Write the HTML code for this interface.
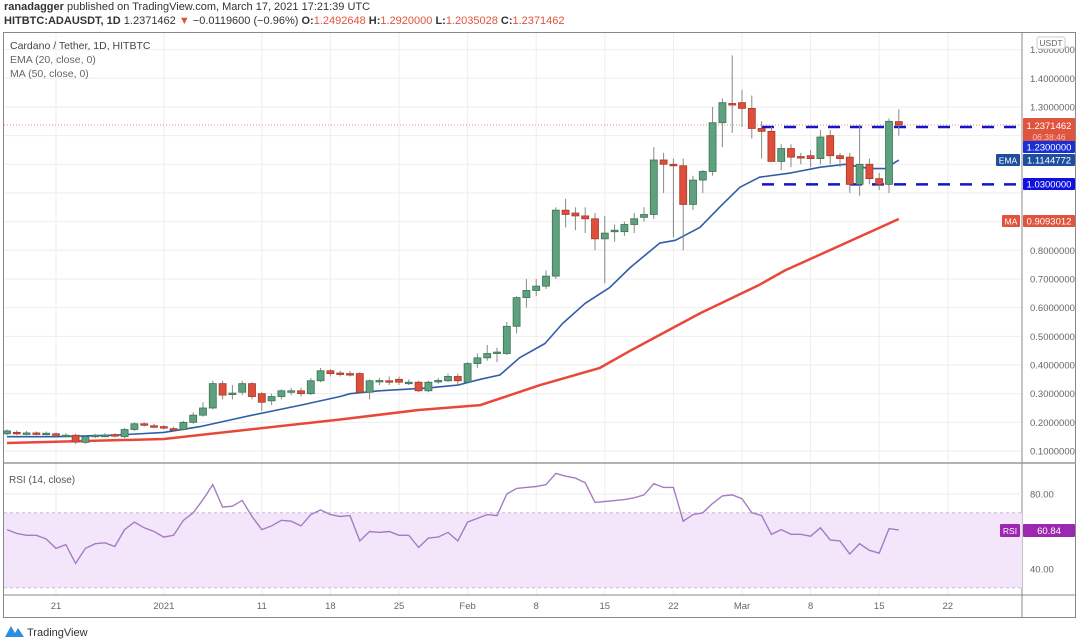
<!DOCTYPE html>
<html><head><meta charset="utf-8">
<style>
body{margin:0;background:#fff;font-family:"Liberation Sans",sans-serif;}
#wrap{position:relative;width:1080px;height:643px;overflow:hidden;background:#fff}
.hdr{position:absolute;left:4px;font-size:11px;color:#333;white-space:nowrap}
</style></head>
<body>
<div id="wrap">
<div class="hdr" style="top:1px"><b>ranadagger</b> published on TradingView.com, March 17, 2021 17:21:39 UTC</div>
<div class="hdr" style="top:15px"><b>HITBTC:ADAUSDT, 1D</b> 1.2371462 <span style="color:#e0533d">▼</span> −0.0119600 (−0.96%) <b>O:</b><span style="color:#e0533d">1.2492648</span> <b>H:</b><span style="color:#e0533d">1.2920000</span> <b>L:</b><span style="color:#e0533d">1.2035028</span> <b>C:</b><span style="color:#e0533d">1.2371462</span></div>
<svg id="svg" width="1080" height="643" style="position:absolute;left:0;top:0"></svg>
</div>
<script>
const opens=[0.16,0.165,0.163,0.163,0.162,0.16,0.155,0.155,0.13,0.15,0.155,0.157,0.15,0.175,0.195,0.188,0.185,0.178,0.175,0.2,0.225,0.25,0.335,0.3,0.305,0.335,0.3,0.275,0.29,0.31,0.31,0.30,0.345,0.38,0.372,0.37,0.37,0.305,0.345,0.345,0.35,0.34,0.34,0.31,0.345,0.345,0.36,0.34,0.405,0.425,0.443,0.44,0.535,0.635,0.66,0.675,0.71,0.94,0.93,0.92,0.91,0.84,0.865,0.865,0.89,0.915,0.925,1.115,1.10,1.095,0.96,1.045,1.075,1.245,1.312,1.315,1.295,1.225,1.215,1.11,1.155,1.127,1.13,1.12,1.2,1.13,1.125,1.03,1.1,1.05,1.03,1.249];
const closes=[0.17,0.163,0.163,0.162,0.162,0.155,0.155,0.131,0.15,0.155,0.155,0.153,0.175,0.195,0.19,0.186,0.18,0.177,0.2,0.225,0.25,0.335,0.295,0.302,0.335,0.29,0.27,0.29,0.31,0.31,0.30,0.345,0.38,0.37,0.37,0.368,0.305,0.345,0.346,0.344,0.34,0.34,0.31,0.34,0.346,0.36,0.345,0.405,0.425,0.44,0.445,0.535,0.635,0.66,0.675,0.71,0.94,0.925,0.92,0.91,0.84,0.86,0.87,0.89,0.91,0.925,1.115,1.10,1.098,0.96,1.045,1.075,1.245,1.315,1.31,1.295,1.225,1.215,1.11,1.155,1.125,1.125,1.12,1.195,1.13,1.12,1.03,1.1,1.05,1.03,1.25,1.2371462];
const highs=[0.175,0.172,0.17,0.168,0.168,0.165,0.162,0.16,0.155,0.16,0.162,0.162,0.18,0.2,0.2,0.195,0.19,0.185,0.205,0.235,0.27,0.345,0.345,0.33,0.345,0.34,0.305,0.3,0.315,0.32,0.32,0.355,0.39,0.385,0.38,0.38,0.375,0.35,0.355,0.36,0.36,0.35,0.345,0.345,0.355,0.37,0.37,0.41,0.44,0.47,0.46,0.55,0.64,0.7,0.7,0.73,0.95,0.98,0.95,0.95,0.93,0.92,0.89,0.9,0.93,0.95,1.16,1.14,1.12,1.12,1.06,1.08,1.3,1.33,1.48,1.36,1.34,1.25,1.23,1.17,1.17,1.14,1.15,1.22,1.22,1.14,1.14,1.24,1.12,1.07,1.26,1.292];
const lows=[0.155,0.155,0.155,0.155,0.155,0.15,0.148,0.125,0.125,0.145,0.148,0.148,0.145,0.17,0.185,0.18,0.175,0.17,0.172,0.195,0.22,0.245,0.28,0.28,0.295,0.28,0.24,0.26,0.28,0.295,0.29,0.295,0.34,0.36,0.36,0.36,0.3,0.28,0.33,0.33,0.33,0.33,0.305,0.305,0.335,0.34,0.33,0.335,0.39,0.415,0.41,0.435,0.51,0.6,0.64,0.665,0.7,0.88,0.87,0.86,0.8,0.685,0.83,0.85,0.86,0.9,0.91,1.0,0.845,0.80,0.94,1.0,1.06,1.16,1.21,1.23,1.19,1.12,1.19,1.08,1.09,1.1,1.09,1.1,1.1,1.09,1.0,0.99,1.03,1.01,1.0,1.20];
const rsi=[61,59,58,58,56,51,53,43,51,53.5,54,52,61,65,62,60,57,58,66,70,77,85,73,73.5,76.6,68,61,63,66,65.5,63,69,71.5,69,68,68.5,55,60,59.5,60,58,58,51.5,56.5,57,59.5,55,65,67,69,68.5,80,83,83.5,84,85,91,89.5,88.5,86,75.5,76,76.5,77,78,79.5,85.5,83.5,83.5,65.5,69,70,75,79,79.5,77.5,70,68.5,58.5,61,58.5,58.5,57.5,62,55.5,55,48,53.5,50,48.5,61.5,60.84];
const emaIdx=[0,5,11,16,19.7,23,25,30,34,35,38,43,46,48.3,50.3,52.3,54.9,56.7,59,61.5,63.6,66.6,68.2,70.7,72.7,74.8,76.8,80,83,85.5,88,89.6,91];
const emaVal=[0.15,0.15,0.155,0.165,0.185,0.21,0.225,0.26,0.29,0.30,0.31,0.32,0.33,0.35,0.365,0.425,0.475,0.545,0.615,0.67,0.74,0.825,0.835,0.88,0.95,1.02,1.055,1.07,1.09,1.1,1.085,1.085,1.1144772];
const maIdx=[0,16,34,42,48.3,54.4,60.5,63.6,70.7,76.8,79.4,91];
const maVal=[0.128,0.142,0.21,0.243,0.26,0.33,0.39,0.45,0.58,0.68,0.73,0.9093012];
const priceTicks=[0.1,0.2,0.3,0.4,0.5,0.6,0.7,0.8,0.9,1.0,1.1,1.2,1.3,1.4,1.5];
const priceTickLabels=["0.1000000","0.2000000","0.3000000","0.4000000","0.5000000","0.6000000","0.7000000","0.8000000","0.9000000","","","","1.3000000","1.4000000","1.5000000"];
const dateIdx=[5,16,26,33,40,47,54,61,68,75,82,89,96];
const dateLabels=["21","2021","11","18","25","Feb","8","15","22","Mar","8","15","22"];
const levels=[1.23,1.03];

const NS="http://www.w3.org/2000/svg",svg=document.getElementById('svg');
function el(t,a,p){const e=document.createElementNS(NS,t);for(const k in a)e.setAttribute(k,a[k]);(p||svg).appendChild(e);return e;}
const X=i=>7+i*9.8;
const Y=p=>451-(p-0.1)*286.7;
const RY=v=>494-(v-80)*1.875;
const R=1022;
let e=el('rect',{x:3.5,y:32.5,width:1072,height:585,fill:'none',stroke:'#888','stroke-width':1});

priceTicks.forEach((p,k)=>{const y=Y(p);if(y<36)return;
 e=el('line',{x1:4,x2:R,y1:y,y2:y,stroke:'#eeeeee'});
 if(priceTickLabels[k]){e=el('text',{x:1030,y:y+3.5,'font-size':9.5,fill:'#666'});e.textContent=priceTickLabels[k];}
});
dateIdx.forEach((d,k)=>{const x=X(d);if(x>R)return;
 e=el('line',{x1:x,x2:x,y1:33,y2:595,stroke:'#eeeeee'});
 e=el('text',{x:x,y:609,'font-size':9.5,fill:'#666','text-anchor':'middle'});e.textContent=dateLabels[k];
});
e=el('line',{x1:R,x2:R,y1:33,y2:617,stroke:'#888'});
e=el('line',{x1:4,x2:1076,y1:463,y2:463,stroke:'#999','stroke-width':1.5});
e=el('line',{x1:4,x2:1076,y1:595,y2:595,stroke:'#888'});
const lastC=closes[closes.length-1];
e=el('line',{x1:4,x2:R,y1:Y(lastC),y2:Y(lastC),stroke:'#e88a7c','stroke-dasharray':'1 2'});
levels.forEach(l=>{e=el('line',{x1:762,x2:R,y1:Y(l),y2:Y(l),stroke:'#1414c8','stroke-width':2.5,'stroke-dasharray':'12 10'});});
function poly(ix,vs,c,w,name){const d=ix.map((i,k)=>(k?'L':'M')+X(i).toFixed(1)+' '+Y(vs[k]).toFixed(1)).join(' ');
 const p=el('path',{d:d,fill:'none',stroke:c,'stroke-width':w,'stroke-linejoin':'round'});}
poly(maIdx,maVal,'#e8483a',2.5,'ma50-line');
poly(emaIdx,emaVal,'#2f5ea8',1.6,'ema20-line');
closes.forEach((c,i)=>{const o=opens[i],up=c>=o,x=X(i);
 const fill=up?'#5fa07e':'#dd4f3b',st=up?'#3a7355':'#a63a2a';
 let w=el('line',{x1:x,x2:x,y1:Y(highs[i]),y2:Y(lows[i]),stroke:'#888','stroke-width':1});
 
 const yt=Y(Math.max(o,c)),h=Math.max(1.5,Math.abs(Y(o)-Y(c)));
 let b=el('rect',{x:x-3.5,y:yt,width:7,height:h,fill:fill,stroke:st,'stroke-width':0.8});
 
});
e=el('rect',{x:4,y:RY(70),width:R-4,height:RY(30)-RY(70),fill:'#f3e6fb'});
[70,30].forEach(v=>{e=el('line',{x1:4,x2:R,y1:RY(v),y2:RY(v),stroke:'#c9b8d6','stroke-dasharray':'3 3'});});
[80,40].forEach(v=>{e=el('line',{x1:4,x2:R,y1:RY(v),y2:RY(v),stroke:'#eeeeee'});
 e=el('text',{x:1030,y:RY(v)+3.5,'font-size':9.5,fill:'#666'});e.textContent=v.toFixed(2);});
e=el('path',{d:rsi.map((v,i)=>(i?'L':'M')+X(i).toFixed(1)+' '+RY(v).toFixed(1)).join(' '),fill:'none',stroke:'#a57cc4','stroke-width':1.4});

e=el('text',{x:9,y:483,'font-size':10,fill:'#555'});e.textContent='RSI (14, close)';
[['Cardano / Tether, 1D, HITBTC',49,'#444'],['EMA (20, close, 0)',63,'#666'],['MA (50, close, 0)',77,'#666']].forEach(t=>{
 e=el('text',{x:10,y:t[1],'font-size':10.5,fill:t[2]});e.textContent=t[0];});
function tag(x,y,w,h,fill,txt,name,fs){const g=el('g',{});
 el('rect',{x:x,y:y,width:w,height:h,fill:fill,rx:1},g);const t=el('text',{x:x+w/2,y:y+h/2+3.5,'font-size':fs||9.5,fill:'#fff','text-anchor':'middle'},g);t.textContent=txt;return g;}
tag(1023,118,52,24,'#e0533d','','last-price-tag');
e=el('text',{x:1049,y:129,'font-size':9.5,fill:'#fff','text-anchor':'middle'});e.textContent='1.2371462';
e=el('text',{x:1049,y:140,'font-size':8.5,fill:'#f5c5bd','text-anchor':'middle'});e.textContent='06:38:46';
tag(1023,141,52,12,'#1a2ed8','1.2300000','level-tag-high');
tag(1023,154,52,12,'#1e4f9e','1.1144772','ema-value-tag');
tag(996,154,24,12,'#1e4f9e','EMA','ema-name-tag',8.5);
tag(1023,178,52,12,'#1010e0','1.0300000','level-tag-low');
tag(1023,215,52,12,'#e0533d','0.9093012','ma-value-tag');
tag(1002,215,18,12,'#e0533d','MA','ma-name-tag',8.5);
tag(1023,524,52,13,'#9c27b0','60.84','rsi-value-tag');
tag(1000,524,20,13,'#9c27b0','RSI','rsi-name-tag',8.5);
e=el('rect',{x:1037,y:37,width:28,height:12,fill:'#fff',stroke:'#ccc',rx:2});
e=el('text',{x:1051,y:46,'font-size':8.5,fill:'#666','text-anchor':'middle'});e.textContent='USDT';
e=el('path',{d:'M5 637 L11 626 L15 633 L18 628 L24 637 Z',fill:'#2d8fe0'});
e=el('text',{x:27,y:636,'font-size':11,fill:'#333'});e.textContent='TradingView';
</script>
</body></html>
